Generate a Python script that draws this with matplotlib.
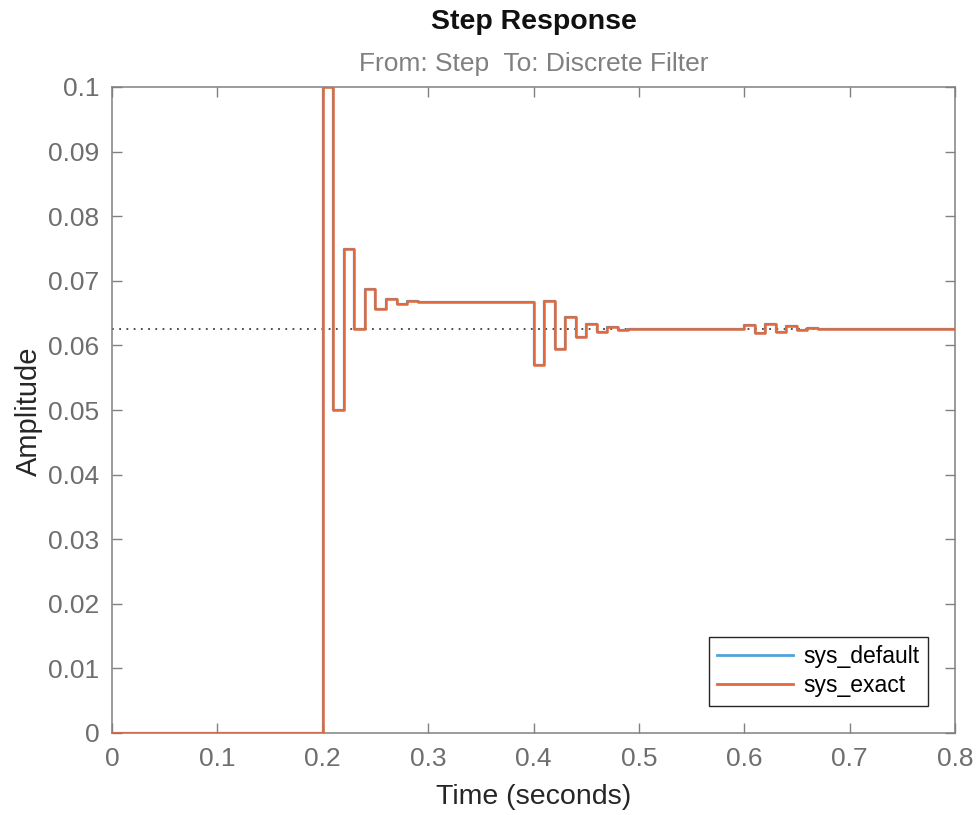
import matplotlib
matplotlib.use("Agg")
import matplotlib.pyplot as plt

plt.rcParams['font.family'] = ['Liberation Sans', 'DejaVu Sans']

# Step times (seconds) and held output values (stairs, held until next time)
time_s = [0.00, 0.20, 0.21, 0.22, 0.23, 0.24, 0.25, 0.26, 0.27, 0.28, 0.29,
          0.40, 0.41, 0.42, 0.43, 0.44, 0.45, 0.46, 0.47, 0.48, 0.49, 0.50,
          0.60, 0.61, 0.62, 0.63, 0.64, 0.65, 0.66, 0.67, 0.80]
amplitude = [0.0, 0.1, 0.05, 0.075, 0.0625, 0.0688, 0.0656, 0.0672, 0.0664, 0.0668, 0.0667,
             0.0570, 0.0668, 0.0594, 0.0644, 0.0613, 0.0633, 0.0621, 0.0628, 0.0624, 0.0626, 0.0625,
             0.0632, 0.0619, 0.0633, 0.0621, 0.0630, 0.0624, 0.0627, 0.0625, 0.0625]
final_value = 0.0625
series_names = ["sys_default", "sys_exact"]
x_ticks = [0, 0.1, 0.2, 0.3, 0.4, 0.5, 0.6, 0.7, 0.8]
x_tick_labels = ["0", "0.1", "0.2", "0.3", "0.4", "0.5", "0.6", "0.7", "0.8"]
y_ticks = [0, 0.01, 0.02, 0.03, 0.04, 0.05, 0.06, 0.07, 0.08, 0.09, 0.1]
y_tick_labels = ["0", "0.01", "0.02", "0.03", "0.04", "0.05", "0.06", "0.07", "0.08", "0.09", "0.1"]

fig = plt.figure(figsize=(9.78, 8.15), dpi=100)
ax = fig.add_axes([112/978, 1-733/815, (955-112)/978, (733-87)/815])

axis_gray = '#808080'
ax.axhline(final_value, color='#404040', linestyle=(0, (1, 3)), linewidth=1.3, zorder=1)

ax.step(time_s, amplitude, where='post', color='#4DA3DB', linewidth=1.6,
        label=series_names[0], zorder=2)
ax.step(time_s, amplitude, where='post', color='#E4683A', linewidth=1.8,
        label=series_names[1], zorder=3)

ax.set_xlim(0, 0.8)
ax.set_ylim(0, 0.1)
ax.set_xticks(x_ticks)
ax.set_xticklabels(x_tick_labels)
ax.set_yticks(y_ticks)
ax.set_yticklabels(y_tick_labels)
ax.tick_params(direction='in', length=7, width=1, color=axis_gray,
               labelcolor='#6E6E6E', labelsize=19, top=True, right=True)
ax.tick_params(axis='x', pad=10)
ax.tick_params(axis='y', pad=9)
for s in ax.spines.values():
    s.set_color(axis_gray)
    s.set_linewidth(1.1)

ax.set_xlabel("Time (seconds)", fontsize=20.5, color='#262626')
ax.set_ylabel("Amplitude", fontsize=21, color='#262626')
ax.xaxis.set_label_coords(0.5, (733-797)/646)
ax.xaxis.label.set_va('center')
ax.yaxis.set_label_coords((29-112)/843, (733-411)/646)
ax.yaxis.label.set_va('center')
ax.yaxis.label.set_ha('center')

fig.text((112+955)/2/978, 1-22/815, "Step Response", ha='center', va='center',
         fontsize=20.5, fontweight='bold', color='#111111')
fig.text((112+955)/2/978, 1-64/815, "From: Step  To: Discrete Filter", ha='center',
         va='center', fontsize=19, color='#808080')

leg = ax.legend(loc='lower right', fontsize=16.5, frameon=True, fancybox=False,
                edgecolor='#262626', framealpha=1, handlelength=3.3,
                borderaxespad=1.2, handletextpad=0.45, borderpad=0.35, labelspacing=0.3)
leg.get_frame().set_linewidth(1.0)
for line in leg.get_lines():
    line.set_linewidth(2.0)

fig.savefig("out.png", dpi=100)
